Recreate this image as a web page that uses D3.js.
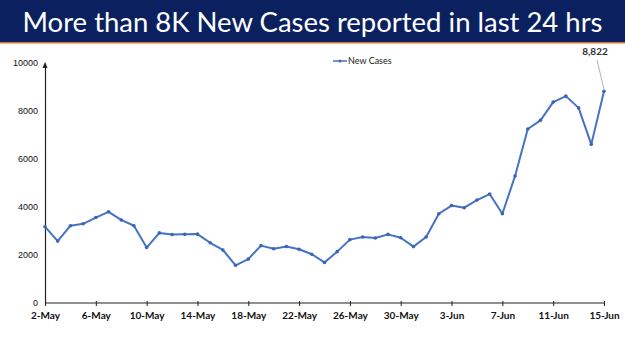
<!DOCTYPE html>
<html><head><meta charset="utf-8">
<script src="https://cdn.jsdelivr.net/npm/d3@7"></script>
<style>html,body{margin:0;padding:0;background:#fff;}svg{display:block;}</style>
</head><body>
<script>
const title = "More than 8K New Cases reported in last 24 hrs";
const seriesName = "New Cases";
const dates = ["2-May","3-May","4-May","5-May","6-May","7-May","8-May","9-May","10-May","11-May","12-May","13-May","14-May","15-May","16-May","17-May","18-May","19-May","20-May","21-May","22-May","23-May","24-May","25-May","26-May","27-May","28-May","29-May","30-May","31-May","1-Jun","2-Jun","3-Jun","4-Jun","5-Jun","6-Jun","7-Jun","8-Jun","9-Jun","10-Jun","11-Jun","12-Jun","13-Jun","14-Jun","15-Jun"];
const newCases = [3180,2580,3220,3300,3560,3800,3460,3220,2310,2920,2850,2860,2870,2510,2210,1570,1830,2390,2260,2350,2240,2030,1690,2140,2640,2750,2710,2860,2720,2350,2750,3720,4060,3970,4290,4540,3720,5290,7250,7610,8370,8620,8130,6610,8822];
const xTickLabels = ["2-May","6-May","10-May","14-May","18-May","22-May","26-May","30-May","3-Jun","7-Jun","11-Jun","15-Jun"];
const yTicks = [0,2000,4000,6000,8000,10000];
const annotationLabel = "8,822";

const W = 625, H = 351;
const svg = d3.select("body").append("svg").attr("width", W).attr("height", H);

// header
svg.append("rect").attr("x",0).attr("y",0).attr("width",W).attr("height",42).attr("fill","#0b215f");
svg.append("rect").attr("x",0).attr("y",42).attr("width",W).attr("height",1.5).attr("fill","#e2703a");
svg.append("text").attr("x",W/2).attr("y",32).attr("text-anchor","middle")
  .attr("fill","#fff").attr("font-family","Lato, 'Open Sans', sans-serif").attr("font-size",27)
  .attr("textLength",580).attr("lengthAdjust","spacingAndGlyphs").text(title);

const x = d3.scalePoint().domain(dates).range([45,604]);
const y = d3.scaleLinear().domain([0,10000]).range([303,63]);

// y axis
const ya = svg.append("g").attr("transform","translate(45,0)")
  .call(d3.axisLeft(y).tickValues(yTicks).tickSize(0).tickPadding(7).tickFormat(d3.format("d")));
ya.select(".domain").attr("stroke","#222").attr("stroke-width",1.2);
ya.selectAll("text").attr("font-family","'Liberation Sans', Arial, sans-serif").attr("font-size",9).attr("fill","#111");
// arrow at top
svg.append("path").attr("d",`M42.5,${y(10000)+5} L45,${y(10000)-1} L47.5,${y(10000)+5} Z`).attr("fill","#222");

// x axis
const xa = svg.append("g").attr("transform","translate(0,303)")
  .call(d3.axisBottom(x).tickValues(xTickLabels).tickSize(3).tickPadding(6));
xa.select(".domain").attr("stroke","#222").attr("stroke-width",1.2).attr("d","M45,0H604");
xa.selectAll(".tick line").attr("stroke","#222").attr("y1",-2).attr("y2",3);
xa.selectAll("text").attr("font-family","Lato, 'Open Sans', sans-serif").attr("font-weight","bold").attr("font-size",10).attr("fill","#111");

// line
const line = d3.line().x((d,i)=>x(dates[i])).y(d=>y(d));
svg.append("path").datum(newCases).attr("d",line).attr("fill","none").attr("stroke","#4472c4").attr("stroke-width",2).attr("stroke-linejoin","round");
svg.selectAll("circle.pt").data(newCases).enter().append("circle").attr("class","pt")
  .attr("cx",(d,i)=>x(dates[i])).attr("cy",d=>y(d)).attr("r",1.8).attr("fill","#3d64b0");

// annotation
const last = newCases.length-1;
svg.append("line").attr("x1",597).attr("y1",60).attr("x2",x(dates[last])).attr("y2",y(newCases[last])-2)
  .attr("stroke","#a0a0a0").attr("stroke-width",0.8);
svg.append("text").attr("x",595).attr("y",55).attr("text-anchor","middle")
  .attr("font-family","Lato, 'Open Sans', sans-serif").attr("font-weight","bold").attr("font-size",10).attr("fill","#333").text(annotationLabel);

// legend
svg.append("line").attr("x1",333).attr("x2",347).attr("y1",61).attr("y2",61).attr("stroke","#4472c4").attr("stroke-width",1.5);
svg.append("circle").attr("cx",340).attr("cy",61).attr("r",1.5).attr("fill","#3d64b0");
svg.append("text").attr("x",348).attr("y",64).attr("font-family","Lato, 'Open Sans', sans-serif").attr("font-size",9).attr("fill","#222").text(seriesName);
</script>
</body></html>
